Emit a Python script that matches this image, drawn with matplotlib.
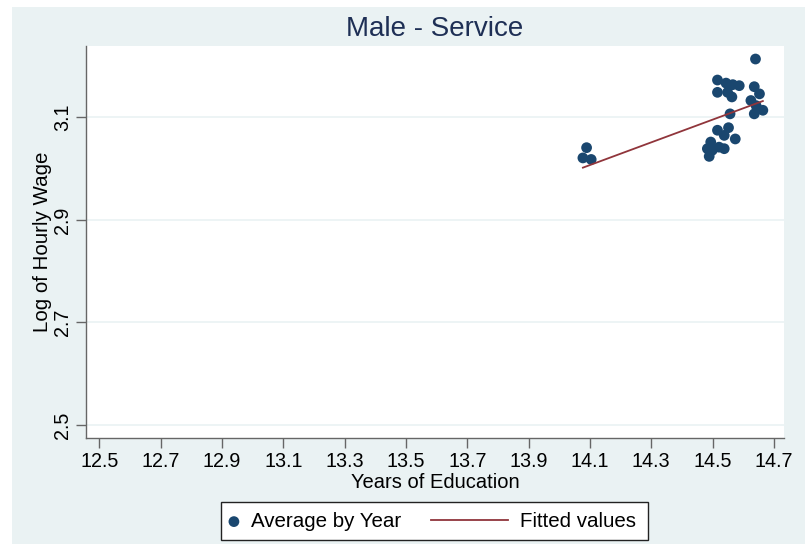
import matplotlib
matplotlib.use("Agg")
import matplotlib.pyplot as plt
from matplotlib.patches import Rectangle
from matplotlib.legend_handler import HandlerPathCollection, HandlerLine2D

plt.rcParams['font.family'] = ['Liberation Sans', 'DejaVu Sans']

educ = [14.089, 14.077, 14.104, 14.640, 14.516, 14.544, 14.566, 14.587, 14.516,
        14.549, 14.563, 14.636, 14.653, 14.625, 14.642, 14.664, 14.636, 14.557,
        14.516, 14.552, 14.538, 14.574, 14.494, 14.483, 14.499, 14.538, 14.489,
        14.521]
logwage = [3.041, 3.021, 3.018, 3.214, 3.173, 3.167, 3.164, 3.162, 3.149,
           3.149, 3.140, 3.160, 3.146, 3.133, 3.123, 3.114, 3.107, 3.107,
           3.075, 3.080, 3.065, 3.058, 3.052, 3.039, 3.036, 3.039, 3.024,
           3.042]
fit_x = [14.077, 14.664]
fit_y = [3.002, 3.132]

xticks = [12.5, 12.7, 12.9, 13.1, 13.3, 13.5, 13.7, 13.9, 14.1, 14.3, 14.5, 14.7]
yticks = [2.5, 2.7, 2.9, 3.1]

bg = '#EAF2F3'
navy = '#1A476F'
maroon = '#90353B'
W, H = 805, 544
PX = 72 / 100  # points per pixel


class RightMarker(HandlerPathCollection):
    def get_xdata(self, legend, xdescent, ydescent, width, height, fontsize):
        x = -xdescent + width - 5 * PX
        return [x], [x]


class LongLine(HandlerLine2D):
    def get_xdata(self, legend, xdescent, ydescent, width, height, fontsize):
        x1 = -xdescent + width
        x0 = x1 - 77 * PX
        return [x0, x1], [0.5 * (x0 + x1)]


fig = plt.figure(figsize=(W / 100, H / 100), dpi=100, facecolor=bg)
fig.patches.append(Rectangle((0, 0), 12 / W, 1, transform=fig.transFigure,
                             facecolor='white', edgecolor='none', zorder=0))
fig.patches.append(Rectangle((0, 1 - 7 / H), 1, 7 / H, transform=fig.transFigure,
                             facecolor='white', edgecolor='none', zorder=0))

ax = fig.add_axes([86 / W, (H - 437.7) / H, (784 - 86) / W, (437.7 - 45.7) / H])
ax.set_facecolor('white')

for y in yticks:
    ax.axhline(y, color=bg, lw=1.2, zorder=1)

sc = ax.scatter(educ, logwage, s=60, color=navy, edgecolors='none', zorder=3,
                label='Average by Year')
ln, = ax.plot(fit_x, fit_y, color=maroon, lw=1.3, zorder=4, label='Fitted values')

ax.set_xlim(12.456, 14.733)
ax.set_ylim(2.475, 3.240)
ax.set_xticks(xticks)
ax.set_xticklabels([f'{v:.1f}' for v in xticks], fontsize=14.2)
ax.set_yticks(yticks)
ax.set_yticklabels([f'{v:.1f}' for v in yticks], fontsize=14.2, rotation=90, va='center')

for s in ['top', 'right']:
    ax.spines[s].set_visible(False)
for s in ['left', 'bottom']:
    ax.spines[s].set_color('#666666')
    ax.spines[s].set_linewidth(1.0)
ax.tick_params(axis='both', direction='out', length=7, width=1, color='#666666',
               labelcolor='black')
ax.tick_params(axis='x', pad=3)
ax.tick_params(axis='y', pad=3)

ax.set_xlabel('Years of Education', fontsize=14.5, labelpad=2)
ax.set_ylabel('Log of Hourly Wage', fontsize=14.8, labelpad=1)
ax.set_title('Male - Service', fontsize=20, color='#1E2F55', pad=7)

# legend frame
fig.patches.append(Rectangle((221 / W, 1 - 540.3 / H), 427 / W, 38 / H,
                             transform=fig.transFigure, facecolor='white',
                             edgecolor='#222222', lw=1.0, zorder=1))
leg = fig.legend(handles=[sc, ln], labels=['Average by Year', 'Fitted values'],
                 loc='center left', bbox_to_anchor=(227 / W, 1 - 521.5 / H), ncol=2,
                 fontsize=14.8, frameon=False, borderpad=0, borderaxespad=0,
                 handlelength=0.58, handletextpad=0.6, columnspacing=4.6,
                 handler_map={sc: RightMarker(), ln: LongLine()})
leg.set_zorder(5)

fig.savefig('out.png', dpi=100, facecolor=fig.get_facecolor())
